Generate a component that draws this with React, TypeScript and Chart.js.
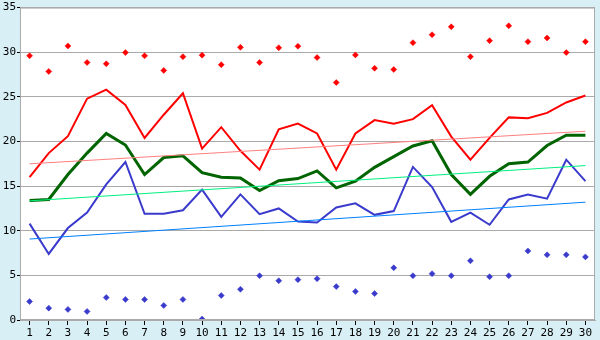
import React, { useEffect, useRef } from "react";
import { Chart, registerables } from "chart.js";

Chart.register(...registerables);

const days = Array.from({ length: 30 }, (_, i) => String(i + 1));

const maxPoints = [29.6, 27.85, 30.7, 28.85, 28.7, 29.96, 29.6, 27.96, 29.5, 29.67,
  28.6, 30.55, 28.85, 30.5, 30.67, 29.4, 26.6, 29.7, 28.2, 28.07,
  31.07, 31.96, 32.85, 29.5, 31.3, 32.96, 31.18, 31.6, 29.96, 31.18];

const maxLine = [16.0, 18.7, 20.6, 24.8, 25.8, 24.1, 20.4, 23.0, 25.4, 19.2,
  21.6, 18.96, 16.85, 21.37, 22.0, 20.9, 16.85, 20.9, 22.4, 22.0,
  22.5, 24.07, 20.55, 17.96, 20.4, 22.7, 22.6, 23.2, 24.37, 25.15];

const meanLine = [13.4, 13.5, 16.3, 18.7, 20.9, 19.6, 16.3, 18.2, 18.4, 16.5,
  16.0, 15.9, 14.5, 15.6, 15.85, 16.7, 14.8, 15.55, 17.1, 18.3,
  19.5, 20.07, 16.3, 14.07, 16.1, 17.5, 17.7, 19.55, 20.7, 20.7];

const minLine = [10.8, 7.4, 10.3, 12.03, 15.2, 17.7, 11.9, 11.9, 12.3, 14.6,
  11.56, 14.07, 11.85, 12.5, 11.04, 10.93, 12.6, 13.07, 11.78, 12.2,
  17.15, 14.9, 11.0, 12.03, 10.67, 13.5, 14.07, 13.6, 17.96, 15.56];

const minPoints = [2.07, 1.33, 1.19, 0.96, 2.52, 2.3, 2.3, 1.63, 2.3, 0.1,
  2.74, 3.44, 4.96, 4.4, 4.52, 4.63, 3.74, 3.19, 2.96, 5.85,
  4.96, 5.19, 4.96, 6.63, 4.85, 4.96, 7.74, 7.3, 7.3, 7.07];

// trend line end values (first day, last day)
const maxTrend = [17.5, 21.15];
const meanTrend = [13.35, 17.3];
const minTrend = [9.07, 13.2];

const yTicks = [0, 5, 10, 15, 20, 25, 30, 35];

function endpoints(pair: number[]) {
  return days.map((_, i) => (i === 0 ? pair[0] : i === days.length - 1 ? pair[1] : null));
}

const bgPlugin = {
  id: "bg",
  beforeDraw(chart: any) {
    const { ctx, chartArea: a, width, height } = chart;
    ctx.save();
    ctx.fillStyle = "#d9eff6";
    ctx.fillRect(0, 0, width, height);
    ctx.fillStyle = "#ffffff";
    ctx.fillRect(a.left, a.top, a.right - a.left, a.bottom - a.top);
    ctx.restore();
  },
  afterDatasetsDraw(chart: any) {
    const { ctx, chartArea: a } = chart;
    ctx.save();
    ctx.strokeStyle = "#aaaaaa";
    ctx.lineWidth = 1;
    ctx.strokeRect(a.left + 0.5, a.top + 0.5, a.right - a.left - 1, a.bottom - a.top - 1);
    ctx.restore();
  },
};

export default function App() {
  const ref = useRef<HTMLCanvasElement | null>(null);
  useEffect(() => {
    if (!ref.current) return;
    const font = { family: "DejaVu Sans Mono", size: 11 };
    const chart = new Chart(ref.current, {
      type: "line",
      data: {
        labels: days,
        datasets: [
          { data: endpoints(maxTrend), borderColor: "#ff8080", borderWidth: 1, pointRadius: 0, spanGaps: true },
          { data: endpoints(meanTrend), borderColor: "#00f080", borderWidth: 1, pointRadius: 0, spanGaps: true },
          { data: endpoints(minTrend), borderColor: "#0080ff", borderWidth: 1, pointRadius: 0, spanGaps: true },
          { data: maxLine, borderColor: "#ff0000", borderWidth: 2, pointRadius: 0, tension: 0 },
          { data: meanLine, borderColor: "#006400", borderWidth: 3, pointRadius: 0, tension: 0 },
          { data: minLine, borderColor: "#3a3acc", borderWidth: 2, pointRadius: 0, tension: 0 },
          { data: maxPoints, showLine: false, pointStyle: "rectRot", pointRadius: 3, backgroundColor: "#ff0000", borderColor: "#ff0000", borderWidth: 0.5 },
          { data: minPoints, showLine: false, pointStyle: "rectRot", pointRadius: 3, backgroundColor: "#3a3acc", borderColor: "#3a3acc", borderWidth: 0.5 },
        ],
      },
      options: {
        animation: false,
        responsive: false,
        maintainAspectRatio: false,
        layout: { padding: { top: 5, right: 5, left: 0, bottom: 0 } },
        plugins: { legend: { display: false }, tooltip: { enabled: false } },
        scales: {
          x: {
            offset: true,
            grid: { display: true, drawOnChartArea: false, drawTicks: true, tickLength: 5, tickColor: "#000000", offset: false },
            border: { color: "#aaaaaa" },
            ticks: { font, color: "#000000", padding: 2, maxRotation: 0, autoSkip: false },
            afterFit(scale: any) { scale.height = 20; },
          },
          y: {
            min: 0,
            max: 35,
            afterBuildTicks(scale: any) { scale.ticks = yTicks.map((v) => ({ value: v })); },
            grid: { color: "#aaaaaa", tickLength: 3, tickColor: "#000000" },
            border: { color: "#aaaaaa" },
            ticks: { font, color: "#000000", padding: 1 },
            afterFit(scale: any) { scale.width = 20; },
          },
        },
      },
      plugins: [bgPlugin],
    } as any);
    return () => chart.destroy();
  }, []);
  return (
    <div style={{ position: "absolute", left: 0, top: 0, width: 600, height: 340 }}>
      <canvas ref={ref} width={600} height={340} style={{ display: "block" }} />
    </div>
  );
}
